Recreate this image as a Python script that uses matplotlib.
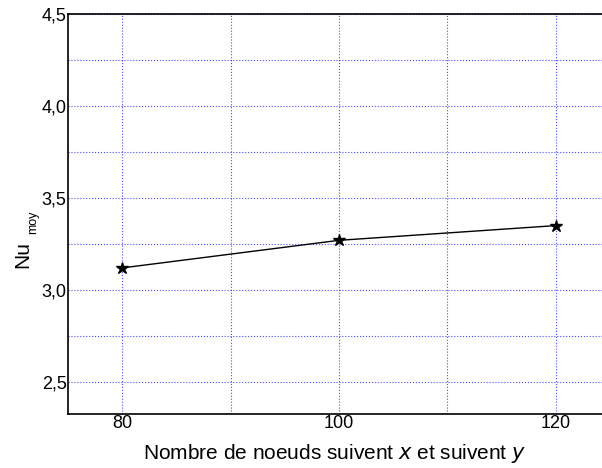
import matplotlib
matplotlib.use("Agg")
import matplotlib.pyplot as plt
from matplotlib.ticker import MultipleLocator, FuncFormatter

plt.rcParams['font.family'] = ['Liberation Sans', 'DejaVu Sans']

nodes = [80, 100, 120]
nu_moy = [3.12, 3.27, 3.35]
xticks = [80, 100, 120]
yticks = [2.5, 3.0, 3.5, 4.0, 4.5]

fig = plt.figure(figsize=(6.02, 4.68), dpi=100)
ax = fig.add_axes([68/602, 1-414/468, 1-68/602, (414-14)/468])

ax.plot(nodes, nu_moy, color='black', lw=1.0, marker='*', ms=9, mfc='black', mec='black', zorder=3)

ax.set_xlim(75, 124.25)
ax.set_ylim(2.326, 4.5)
ax.set_xticks(xticks)
ax.set_yticks(yticks)
ax.xaxis.set_minor_locator(MultipleLocator(10))
ax.yaxis.set_minor_locator(MultipleLocator(0.25))
ax.yaxis.set_major_formatter(FuncFormatter(lambda v, p: f"{v:.1f}".replace('.', ',')))
ax.tick_params(which='both', length=0, labelsize=13, pad=1)
ax.grid(which='both', color='blue', linestyle=':', lw=0.8, alpha=0.7)
ax.spines['right'].set_visible(False)
for s in ['left', 'bottom', 'top']:
    ax.spines[s].set_linewidth(1.2)

ax.set_xlabel(r'Nombre de noeuds suivent $\it{x}$ et suivent $\it{y}$', fontsize=15, labelpad=7)

# y label: large "Nu" with a small, lowered "moy" subscript
fig.text(13/602, 1-254/468, 'Nu', rotation=90, fontsize=15, ha='left', va='center')
fig.text(27/602, 1-222/468, 'moy', rotation=90, fontsize=9, ha='left', va='center')

fig.savefig('out.png', dpi=100)
